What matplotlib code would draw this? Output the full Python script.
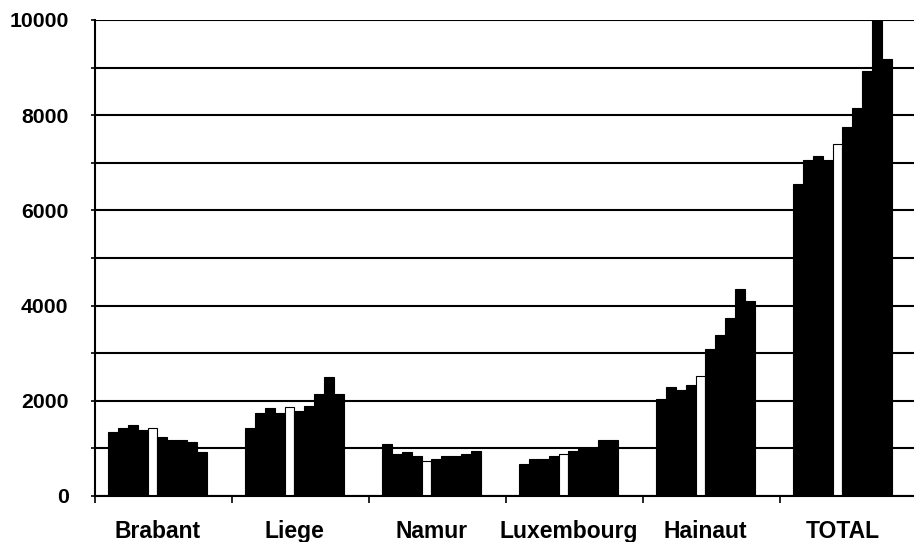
"""Bar chart: yearly counts per province, ten bars per region."""

import matplotlib
matplotlib.use("Agg")
import matplotlib.pyplot as plt
import numpy as np
from matplotlib.ticker import MultipleLocator

regions = ["Brabant", "Liege", "Namur", "Luxembourg", "Hainaut", "TOTAL"]

# one row per region, ten values (bar 5 is the white one)
brabant = [1350, 1435, 1485, 1390, 1430, 1230, 1185, 1180, 1135, 930]
liege = [1435, 1745, 1840, 1750, 1870, 1785, 1890, 2145, 2495, 2145]
namur = [1085, 890, 930, 835, 745, 785, 840, 840, 880, 940]
luxembourg = [680, 775, 780, 840, 875, 940, 1015, 1015, 1185, 1185]
hainaut = [2030, 2280, 2235, 2340, 2525, 3090, 3390, 3740, 4350, 4105]
total = [6555, 7050, 7150, 7050, 7395, 7745, 8160, 8930, 10040, 9175]

values = np.array([brabant, liege, namur, luxembourg, hainaut, total])
highlight = 4  # index of the open (white) bar in each group


def main() -> None:
    fig = plt.figure(figsize=(9.14, 5.42), dpi=100)
    ax = fig.add_axes([0.1039, 0.0849, 0.8993, 0.8782])

    n_groups, n_bars = values.shape
    width = 9.9 / 137
    start = 13 / 137
    groups = np.arange(n_groups)

    for i in range(n_bars):
        face = "white" if i == highlight else "black"
        ax.bar(groups + start + i * width, values[:, i], width, align="edge",
               color=face, edgecolor="black", linewidth=0.8, zorder=3)

    ax.set_xlim(0, n_groups)
    ax.set_ylim(0, 10000)

    # y axis: labels every 2000, gridlines every 1000
    ax.yaxis.set_major_locator(MultipleLocator(2000))
    ax.yaxis.set_minor_locator(MultipleLocator(1000))
    ax.grid(axis="y", which="both", color="black", linewidth=1.5, zorder=0)
    ax.set_axisbelow(True)
    ax.tick_params(axis="y", which="both", length=3, width=1.2, pad=16)
    for lab in ax.get_yticklabels():
        lab.set_fontweight("bold")
        lab.set_fontsize(15.3)
        lab.set_family("Liberation Sans")

    # x axis: ticks between groups, labels under the bars
    ax.set_xticks(groups, minor=True)
    centers = groups + start + n_bars * width / 2
    ax.set_xticks(centers)
    ax.set_xticklabels(regions, fontsize=16.5, fontweight="bold",
                       family="Liberation Sans")
    ax.tick_params(axis="x", which="major", length=0, pad=17)
    ax.tick_params(axis="x", which="minor", length=5, width=1.2)

    for side in ("top", "right"):
        ax.spines[side].set_visible(False)
    for side in ("left", "bottom"):
        ax.spines[side].set_linewidth(1.5)
        ax.spines[side].set_zorder(4)

    fig.savefig("out.png", dpi=100)
    plt.close(fig)


if __name__ == "__main__":
    main()
